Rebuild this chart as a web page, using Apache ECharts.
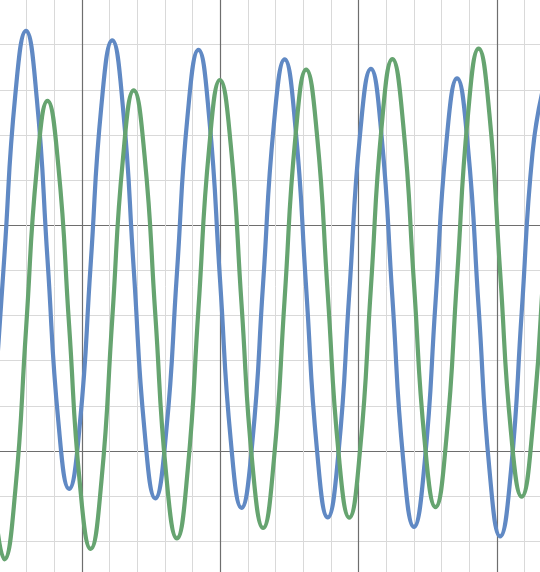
<!DOCTYPE html>
<html>
<head>
<meta charset="utf-8">
<script src="https://cdn.jsdelivr.net/npm/echarts@6/dist/echarts.min.js"></script>
<style>html,body{margin:0;padding:0;background:#fff}#chart{width:540px;height:572px}</style>
</head>
<body>
<div id="chart"></div>
<script>
// x positions (shared by both curves)
const xs = [-3.194,-2.804,-2.415,-2.025,-1.635,-1.246,-0.856,-0.467,-0.077,0.313,0.702,1.092,1.482,1.871,2.261,2.650,3.040,3.430,3.819,4.209,4.598,4.988,5.378,5.767,6.157,6.547,6.936,7.326,7.715,8.105,8.495,8.884,9.274,9.663,10.053,10.443,10.832,11.222,11.611,12.001,12.391,12.780,13.170,13.559,13.949,14.339,14.728,15.118,15.507,15.897,16.287,16.676];
// blue curve values
const blueVals = [0.816,4.340,7.863,9.307,7.811,4.234,0.658,-0.838,0.605,4.129,7.653,9.096,7.600,4.024,0.447,-1.049,0.395,3.918,7.442,8.886,7.389,3.813,0.236,-1.260,0.184,3.707,7.231,8.675,7.178,3.602,0.026,-1.471,-0.027,3.497,7.020,8.464,6.968,3.391,-0.185,-1.681,-0.238,3.286,6.810,8.253,6.757,3.181,-0.396,-1.892,-0.448,3.075,6.599,8.043];
// green curve values
const greenVals = [-0.958,-2.399,-0.900,2.679,6.258,7.757,6.316,2.794,-0.727,-2.168,-0.669,2.910,6.489,7.988,6.547,3.026,-0.496,-1.937,-0.438,3.141,6.720,8.219,6.778,3.257,-0.264,-1.706,-0.207,3.372,6.951,8.450,7.009,3.488,-0.033,-1.474,0.024,3.603,7.182,8.681,7.240,3.719,0.198,-1.243,0.256,3.834,7.413,8.912,7.471,3.950,0.429,-1.012,0.487,4.066];

const blueData = xs.map((x, i) => [x, blueVals[i]]);
const greenData = xs.map((x, i) => [x, greenVals[i]]);

const chart = echarts.init(document.getElementById('chart'), null, {renderer: 'canvas'});
const axisCommon = {
  type: 'value',
  interval: 5,
  axisLabel: {show: false},
  axisTick: {show: false},
  axisLine: {show: false},
  splitLine: {show: true, lineStyle: {color: '#6e6e6e', width: 1.2}},
  minorTick: {show: false, splitNumber: 5},
  minorSplitLine: {show: true, lineStyle: {color: '#d9d9d9', width: 1}}
};
chart.setOption({
  animation: false,
  backgroundColor: '#ffffff',
  grid: {left: -56.3, top: -0.4, width: 691.5, height: 677.1, containLabel: false, outerBoundsMode: 'none'},
  xAxis: Object.assign({}, axisCommon, {min: -5, max: 20}),
  yAxis: Object.assign({}, axisCommon, {min: -5, max: 10}),
  series: [
    {type: 'line', data: blueData, smooth: 0.5, showSymbol: false, clip: true,
     lineStyle: {color: '#6089c4', width: 4.2}},
    {type: 'line', data: greenData, smooth: 0.5, showSymbol: false, clip: true,
     lineStyle: {color: '#66a470', width: 4.2}}
  ]
});
</script>
</body>
</html>
